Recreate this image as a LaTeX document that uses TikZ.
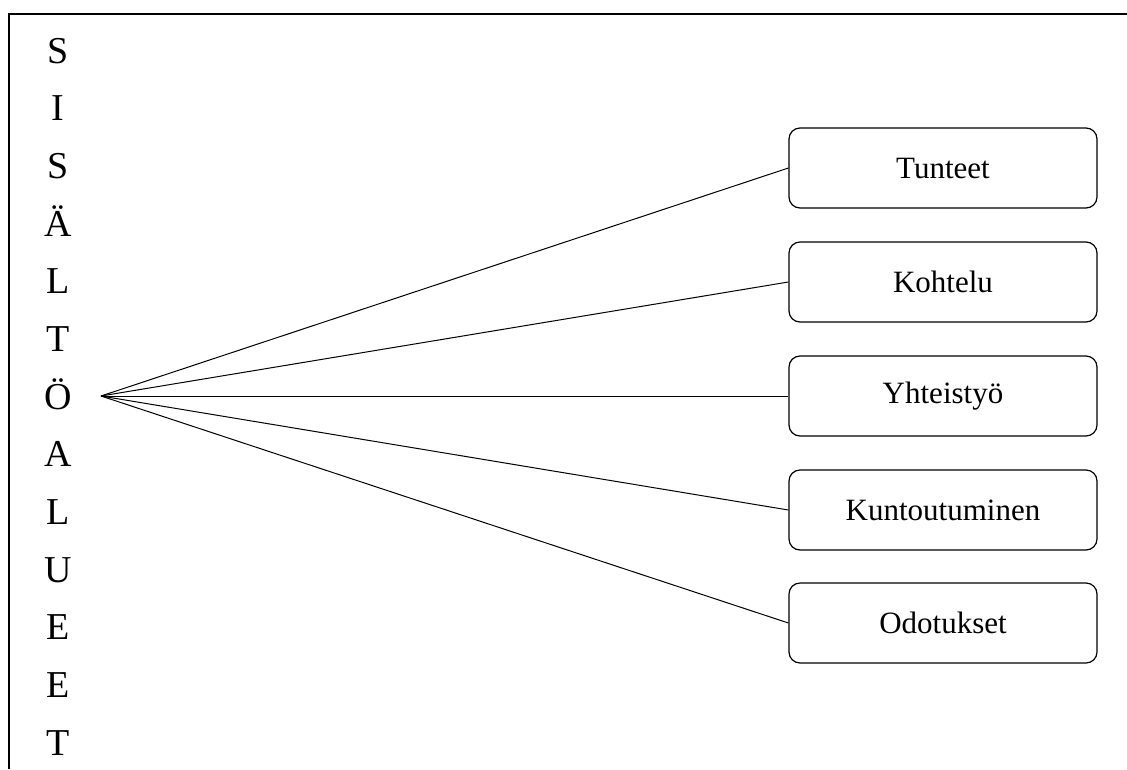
\documentclass[tikz,border=0pt]{standalone}
\usepackage{fontspec}
\setmainfont{Liberation Serif}
\begin{document}
\begin{tikzpicture}[x=1pt,y=-1pt,
  topicbox/.style={draw, line width=1.2pt, rounded corners=11pt, minimum width=308pt, minimum height=80pt, inner sep=0pt, font=\fontsize{31}{31}\selectfont},
  letter/.style={anchor=base, inner sep=0pt, font=\fontsize{38}{38}\selectfont},
  link/.style={line width=1pt}]
\useasboundingbox (0,0) rectangle (1127,769);
\draw[line width=2pt] (9,769) -- (9,14) -- (1127,14);
\foreach \ch [count=\i from 0] in {S,I,S,Ä,L,T,Ö,A,L,U,E,E,T}
  \node[letter] (l\i) at (58,{63+57.67*\i}) {\ch};
\coordinate (hub) at (101,396);
\node[topicbox] (b1) at (943,168) {Tunteet};
\node[topicbox] (b2) at (943,282) {Kohtelu};
\node[topicbox] (b3) at (943,396) {Yhteistyö};
\node[topicbox] (b4) at (943,510) {Kuntoutuminen};
\node[topicbox] (b5) at (943,623) {Odotukset};
\foreach \b in {b1,b2,b3,b4,b5}
  \draw[link] (hub) -- (\b.west);
\end{tikzpicture}
\end{document}
